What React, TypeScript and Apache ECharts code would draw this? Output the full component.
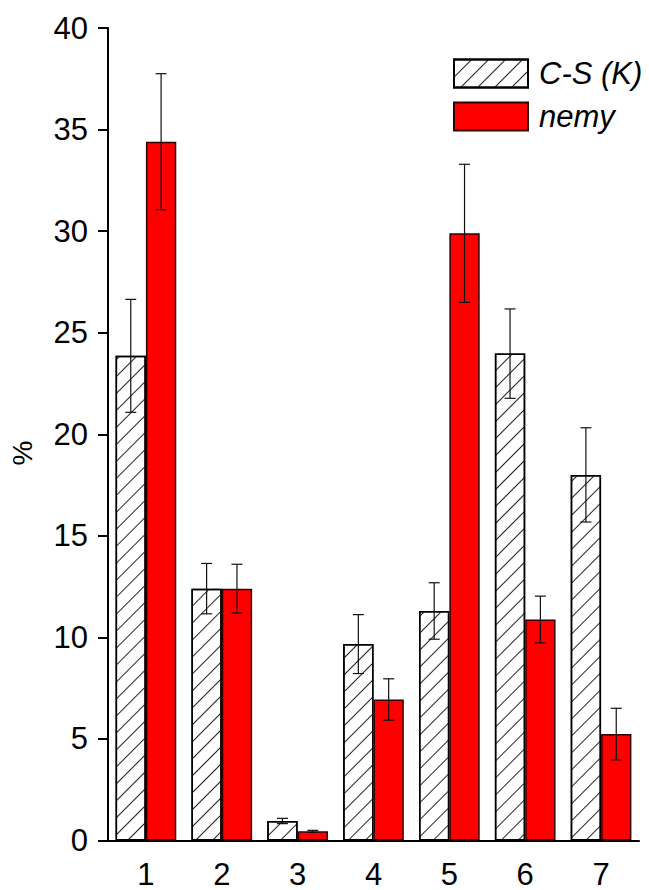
import React, { useEffect, useRef } from "react";
import * as echarts from "echarts";

const categories = ["1", "2", "3", "4", "5", "6", "7"];
const csValues = [23.86, 12.4, 0.96, 9.67, 11.3, 23.97, 18.0];
const csErrors = [2.78, 1.24, 0.13, 1.45, 1.39, 2.2, 2.32];
const nemyValues = [34.4, 12.4, 0.45, 6.94, 29.89, 10.88, 5.24];
const nemyErrors = [3.35, 1.2, 0.05, 1.02, 3.4, 1.15, 1.27];
const yTicks = { min: 0, max: 40, interval: 5 };

export default function App() {
  const ref = useRef<HTMLDivElement>(null);
  useEffect(() => {
    if (!ref.current) return;
    const chart = echarts.init(ref.current, undefined, { renderer: "svg" });
    const font = "Arial, 'Liberation Sans', sans-serif";
    const errSeries = (vals: number[], errs: number[], side: number, name: string) => ({
      type: "custom",
      name,
      z: 10,
      xAxisIndex: 0,
      yAxisIndex: 0,
      data: vals.map((v, i) => [i, v, errs[i]]),
      renderItem: (params: any, api: any) => {
        const i = api.value(0);
        const v = api.value(1);
        const e = api.value(2);
        const bw = api.size([1, 0])[0] * 0.4;
        const cx = api.coord([i, v])[0] + side * bw / 2;
        const yt = api.coord([i, v + e])[1];
        const yb = api.coord([i, v - e])[1];
        const cap = 5.5;
        const style = { stroke: "#111", lineWidth: 1.2 };
        return {
          type: "group",
          children: [
            { type: "line", shape: { x1: cx, y1: yt, x2: cx, y2: yb }, style },
            { type: "line", shape: { x1: cx - cap, y1: yt, x2: cx + cap, y2: yt }, style },
            { type: "line", shape: { x1: cx - cap, y1: yb, x2: cx + cap, y2: yb }, style },
          ],
        };
      },
    });
    chart.setOption({
      animation: false,
      backgroundColor: "#fff",
      grid: { left: 108, right: 10, top: 28, bottom: 46, containLabel: false },
      legend: {
        orient: "vertical",
        left: 448,
        top: 53,
        icon: "rect",
        itemWidth: 74,
        itemHeight: 28,
        itemGap: 12,
        data: ["C-S (K)", "nemy"],
        textStyle: { fontSize: 31, fontStyle: "italic", color: "#000", fontFamily: font, padding: [0, 0, 0, 6] },
      },
      xAxis: [
        {
          type: "category",
          data: categories,
          axisLine: { lineStyle: { color: "#000", width: 2 } },
          axisTick: { alignWithLabel: true, length: 10, lineStyle: { color: "#000", width: 2 } },
          axisLabel: { fontSize: 31, color: "#000", margin: 21, lineHeight: 26, fontFamily: font },
          splitLine: { show: false },
        },
        {
          type: "category",
          data: categories,
          position: "bottom",
          axisLine: { show: false },
          axisTick: { length: 6, lineStyle: { color: "#000", width: 2 } },
          axisLabel: { show: false },
        },
      ],
      yAxis: {
        type: "value",
        min: yTicks.min,
        max: yTicks.max,
        interval: yTicks.interval,
        axisLine: { show: true, lineStyle: { color: "#000", width: 2 } },
        axisTick: { show: true, length: 10, lineStyle: { color: "#000", width: 2 } },
        axisLabel: { fontSize: 31, color: "#000", margin: 20, fontFamily: font },
        splitLine: { show: false },
      },
      graphic: [
        {
          type: "text",
          x: 22,
          y: 453,
          rotation: Math.PI / 2,
          style: { text: "%", fill: "#000", font: `28px ${font}`, align: "center", verticalAlign: "middle" },
        },
      ],
      series: [
        {
          name: "C-S (K)",
          type: "bar",
          data: csValues,
          barWidth: "40%",
          barGap: "0%",
          itemStyle: {
            color: "#fff",
            borderColor: "#000",
            borderWidth: 1.5,
            decal: {
              symbol: "rect",
              symbolSize: 1,
              color: "#222",
              backgroundColor: "#fff",
              dashArrayX: [1, 0],
              dashArrayY: [1, 11],
              rotation: -Math.PI / 4,
            },
          },
        },
        {
          name: "nemy",
          type: "bar",
          data: nemyValues,
          barWidth: "40%",
          barGap: "0%",
          itemStyle: { color: "#ff0000", borderColor: "#300", borderWidth: 1.5 },
        },
        errSeries(csValues, csErrors, -1, "errCS"),
        errSeries(nemyValues, nemyErrors, 1, "errNemy"),
      ],
    });
    return () => chart.dispose();
  }, []);
  return <div ref={ref} style={{ width: 649, height: 890, position: "absolute", left: 0, top: 0 }} />;
}
